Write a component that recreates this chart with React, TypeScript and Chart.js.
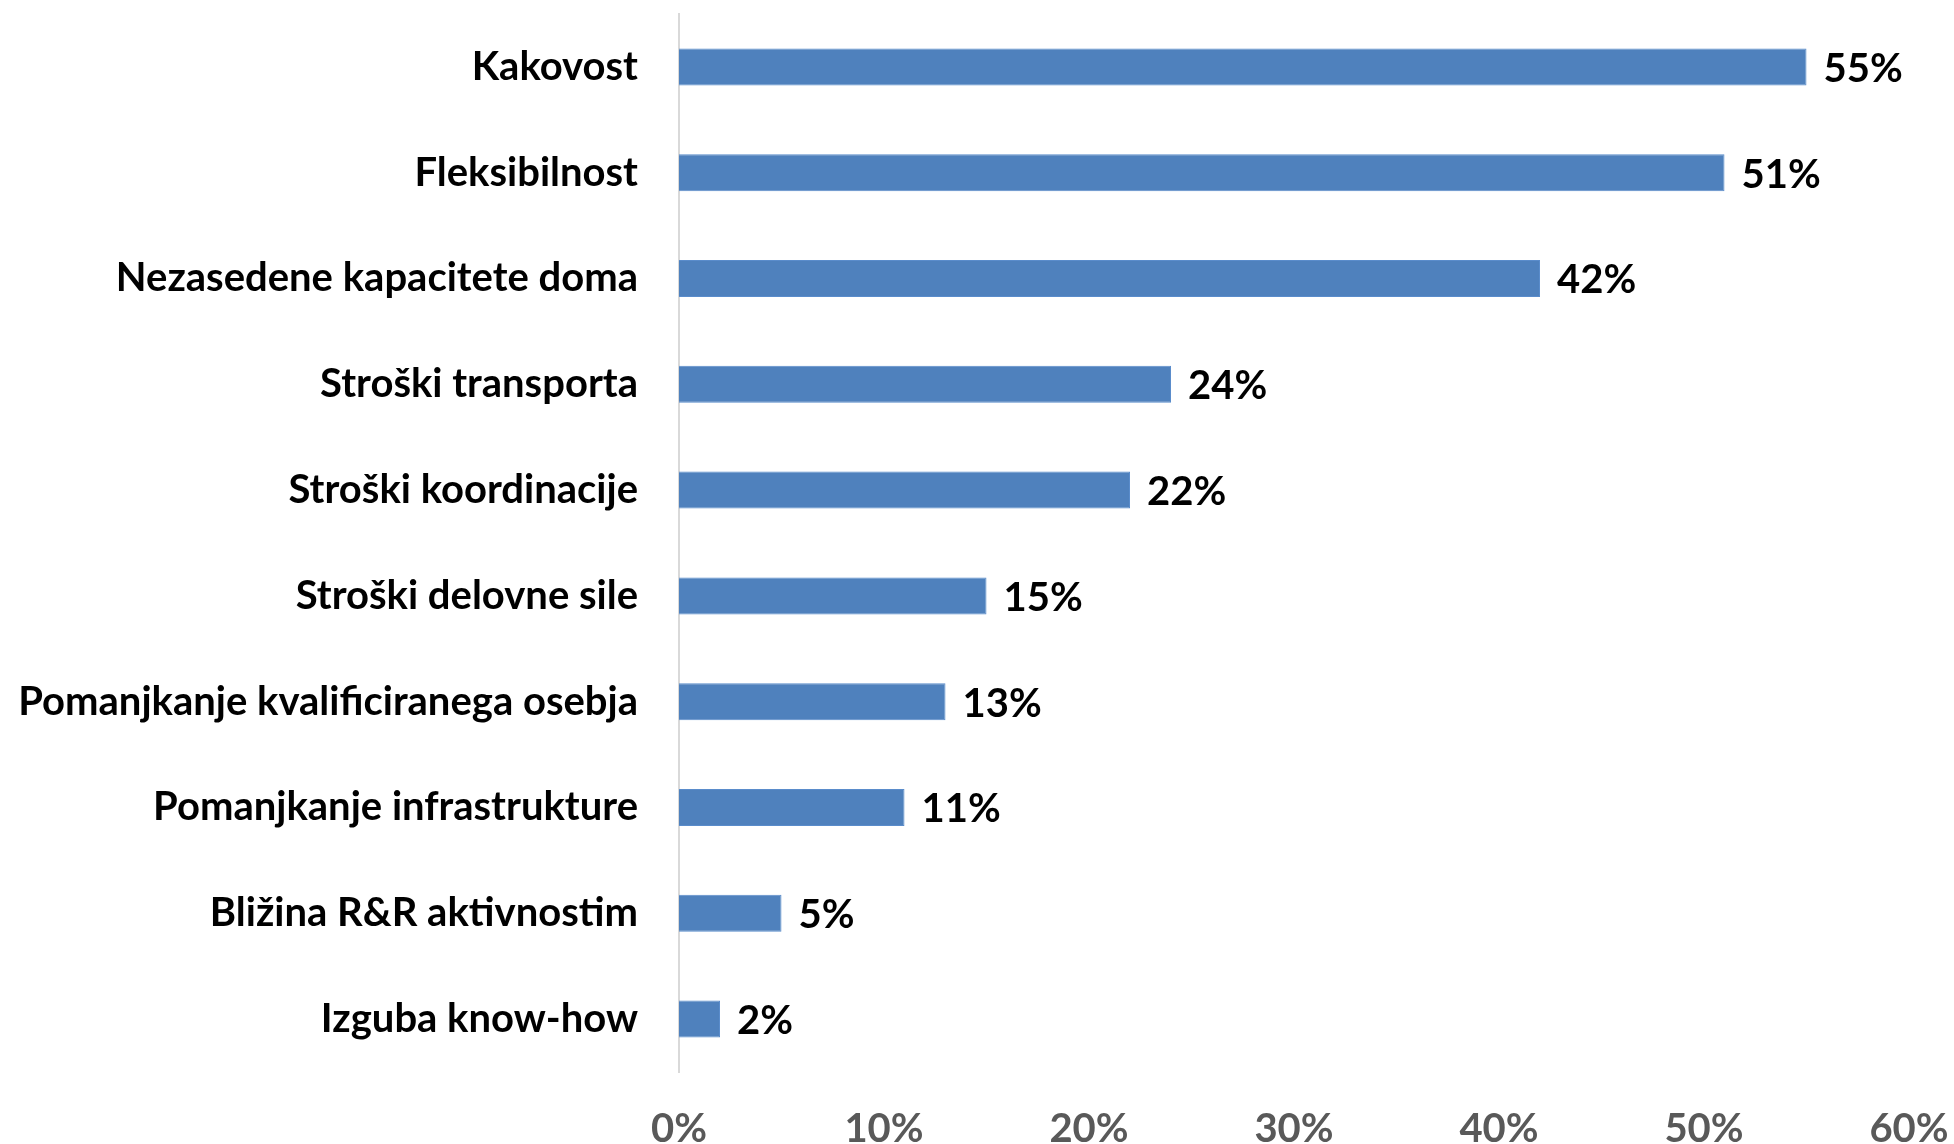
import React, { useEffect, useRef } from "react";
import { Chart, registerables } from "chart.js";

Chart.register(...registerables);

const categories: string[] = [
  "Kakovost",
  "Fleksibilnost",
  "Nezasedene kapacitete doma",
  "Stroški transporta",
  "Stroški koordinacije",
  "Stroški delovne sile",
  "Pomanjkanje kvalificiranega osebja",
  "Pomanjkanje infrastrukture",
  "Bližina R&R aktivnostim",
  "Izguba know-how",
];
const values: number[] = [55, 51, 42, 24, 22, 15, 13, 11, 5, 2];
const axisMax = 60;
const axisStep = 10;

const FONT = "Lato, 'Open Sans', sans-serif";
const FONT_SIZE = 40;

const valueLabels = {
  id: "valueLabels",
  afterDatasetsDraw(chart: any) {
    const ctx = chart.ctx;
    const meta = chart.getDatasetMeta(0);
    ctx.save();
    ctx.font = `bold ${FONT_SIZE}px ${FONT}`;
    ctx.fillStyle = "#000000";
    ctx.textAlign = "left";
    ctx.textBaseline = "middle";
    meta.data.forEach((bar: any, i: number) => {
      ctx.fillText(`${values[i]}%`, bar.x + 17, bar.y + 2);
    });
    ctx.restore();
  },
};

export default function App() {
  const ref = useRef<HTMLCanvasElement | null>(null);
  useEffect(() => {
    document.body.style.margin = "0";
    if (!ref.current) return;
    const chart = new Chart(ref.current, {
      type: "bar",
      data: {
        labels: categories,
        datasets: [
          {
            data: values,
            backgroundColor: "#4f81bd",
            borderColor: "#5a8ccb",
            borderWidth: 1,
            categoryPercentage: 1,
            barPercentage: 0.35,
          },
        ],
      },
      options: {
        indexAxis: "y",
        animation: false,
        responsive: false,
        layout: { padding: { top: 14, right: 45, left: 0, bottom: 0 }, autoPadding: false },
        plugins: { legend: { display: false }, tooltip: { enabled: false } },
        scales: {
          x: {
            min: 0,
            max: axisMax,
            ticks: {
              stepSize: axisStep,
              color: "#595959",
              font: { family: FONT, size: FONT_SIZE, weight: "bold" },
              padding: 33,
              callback: (v: any) => `${v}%`,
              maxRotation: 0,
            },
            grid: { display: false, drawTicks: false },
            border: { display: false },
            afterFit: (s: any) => {
              s.height = 72;
              s.paddingLeft = 0;
              s.paddingRight = 0;
            },
          },
          y: {
            ticks: {
              color: "#000000",
              font: { family: FONT, size: FONT_SIZE, weight: "bold" },
              padding: 41,
              autoSkip: false,
            },
            grid: { display: false, drawTicks: false },
            border: { display: true, color: "#d9d9d9", width: 2 },
            afterFit: (s: any) => {
              s.width = 679;
              s.paddingTop = 0;
              s.paddingBottom = 0;
            },
          },
        },
      },
      plugins: [valueLabels],
    });
    return () => chart.destroy();
  }, []);
  return (
    <div style={{ position: "absolute", left: 0, top: 0, width: 1954, height: 1144, background: "#fff" }}>
      <canvas ref={ref} width={1954} height={1144} style={{ width: 1954, height: 1144 }} />
    </div>
  );
}
